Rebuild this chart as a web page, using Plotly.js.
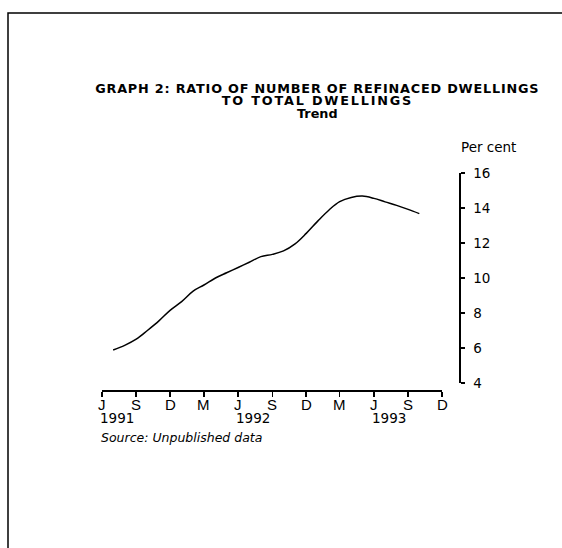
<!DOCTYPE html>
<html>
<head>
<meta charset="utf-8">
<script src="https://cdn.plot.ly/plotly-3.0.1.min.js"></script>
<style>
html,body{margin:0;padding:0;background:#fff;}
#chart{width:562px;height:548px;}
#chart .annotation[data-index="0"] text{letter-spacing:0.8px;}
#chart .annotation[data-index="1"] text{letter-spacing:1.8px;}
</style>
</head>
<body>
<div id="chart"></div>
<script>
// Monthly trend: ratio of refinanced dwellings to total dwellings (per cent)
const months = [
  '1991-07-01','1991-08-01','1991-09-01','1991-10-01','1991-11-01','1991-12-01',
  '1992-01-01','1992-02-01','1992-03-01','1992-04-01','1992-05-01','1992-06-01',
  '1992-07-01','1992-08-01','1992-09-01','1992-10-01','1992-11-01','1992-12-01',
  '1993-01-01','1993-02-01','1993-03-01','1993-04-01','1993-05-01','1993-06-01',
  '1993-07-01','1993-08-01','1993-09-01','1993-10-01'
];
const ratio = [
  5.89, 6.15, 6.5, 7.0, 7.55, 8.15,
  8.65, 9.25, 9.6, 10.0, 10.3, 10.6,
  10.9, 11.22, 11.35, 11.55, 11.95, 12.55,
  13.25, 13.9, 14.36, 14.6, 14.68, 14.55,
  14.35, 14.15, 13.92, 13.68
];
const xTickVals = [
  '1991-06-01','1991-09-01','1991-12-01','1992-03-01','1992-06-01','1992-09-01',
  '1992-12-01','1993-03-01','1993-06-01','1993-09-01','1993-12-01'
];
const xTickText = ['J','S','D','M','J','S','D','M','J','S','D'];
const yearLabels = ['1991','1992','1993'];
const yearPositions = ['1991-06-01','1992-06-01','1993-06-01'];
const yTickVals = [4,6,8,10,12,14,16];

const titleLines = [
  'GRAPH 2: RATIO OF NUMBER OF REFINACED DWELLINGS',
  'TO TOTAL DWELLINGS',
  'Trend'
];
const titleY = [1.39, 1.332, 1.276];

const tickFont = {family: 'DejaVu Sans, Liberation Sans, sans-serif', size: 13.5, color: '#000'};
const monthFont = {family: 'Liberation Sans, Arial, sans-serif', size: 15, color: '#000'};
const titleFont = {family: 'DejaVu Sans, Liberation Sans, sans-serif', size: 12.8, color: '#000', weight: 'bold'};

const annotations = [];
titleLines.forEach((t, i) => {
  annotations.push({
    text: '<b>' + t + '</b>', xref: 'paper', yref: 'paper',
    x: 0.605, y: titleY[i], xanchor: 'center', yanchor: 'middle',
    showarrow: false, font: titleFont
  });
});
// month labels under the x-axis ticks
xTickText.forEach((t, i) => {
  annotations.push({
    text: t, xref: 'x', yref: 'paper', x: xTickVals[i], y: -0.068,
    xanchor: 'center', yanchor: 'middle', showarrow: false, font: monthFont
  });
});
yearLabels.forEach((t, i) => {
  annotations.push({
    text: t, xref: 'x', yref: 'paper', x: yearPositions[i], y: -0.131,
    xanchor: 'left', yanchor: 'middle', xshift: -4, showarrow: false, font: tickFont
  });
});
annotations.push({
  text: 'Per cent', xref: 'paper', yref: 'paper', x: 1, y: 1.12,
  xanchor: 'center', yanchor: 'middle', xshift: 29, showarrow: false, font: tickFont
});
annotations.push({
  text: '<i>Source: Unpublished data</i>', xref: 'paper', yref: 'paper', x: -0.0084, y: -0.2166,
  xanchor: 'left', yanchor: 'middle', showarrow: false,
  font: {family: 'DejaVu Sans, Liberation Sans, sans-serif', size: 12.5, color: '#000', style: 'italic'}
});

const trace = {
  x: months, y: ratio, type: 'scatter', mode: 'lines',
  line: {color: '#000', width: 1.5, shape: 'spline', smoothing: 1},
  hoverinfo: 'skip'
};

const layout = {
  width: 562, height: 548,
  margin: {l: 102, r: 103, t: 173, b: 158, pad: 0},
  paper_bgcolor: '#fff', plot_bgcolor: 'rgba(0,0,0,0)',
  showlegend: false,
  xaxis: {
    type: 'date', domain: [0, 0.95238], anchor: 'free', position: 0,
    range: ['1991-06-01', '1993-12-01'],
    tickmode: 'array', tickvals: xTickVals, showticklabels: false,
    showline: true, linecolor: '#000', linewidth: 1.5,
    ticks: 'outside', ticklen: 5, tickwidth: 1.5, tickcolor: '#000',
    showgrid: false, zeroline: false, fixedrange: true
  },
  yaxis: {
    range: [4, 16], domain: [0.0323, 1], anchor: 'free', position: 1, side: 'right',
    tickmode: 'array', tickvals: yTickVals,
    showline: true, linecolor: '#000', linewidth: 1.5,
    ticks: 'outside', ticklen: 4, tickwidth: 1.5, tickcolor: '#000',
    ticklabelstandoff: 6,
    showgrid: false, zeroline: false, tickfont: tickFont, fixedrange: true
  },
  annotations: annotations,
  shapes: [{
    type: 'path', xref: 'paper', yref: 'paper',
    path: 'M -0.2633,-0.73 L -0.2633,1.7373 L 1.3,1.7373',
    line: {color: '#000', width: 1.5}
  }]
};

Plotly.newPlot('chart', [trace], layout, {displayModeBar: false, staticPlot: true});
</script>
</body>
</html>
